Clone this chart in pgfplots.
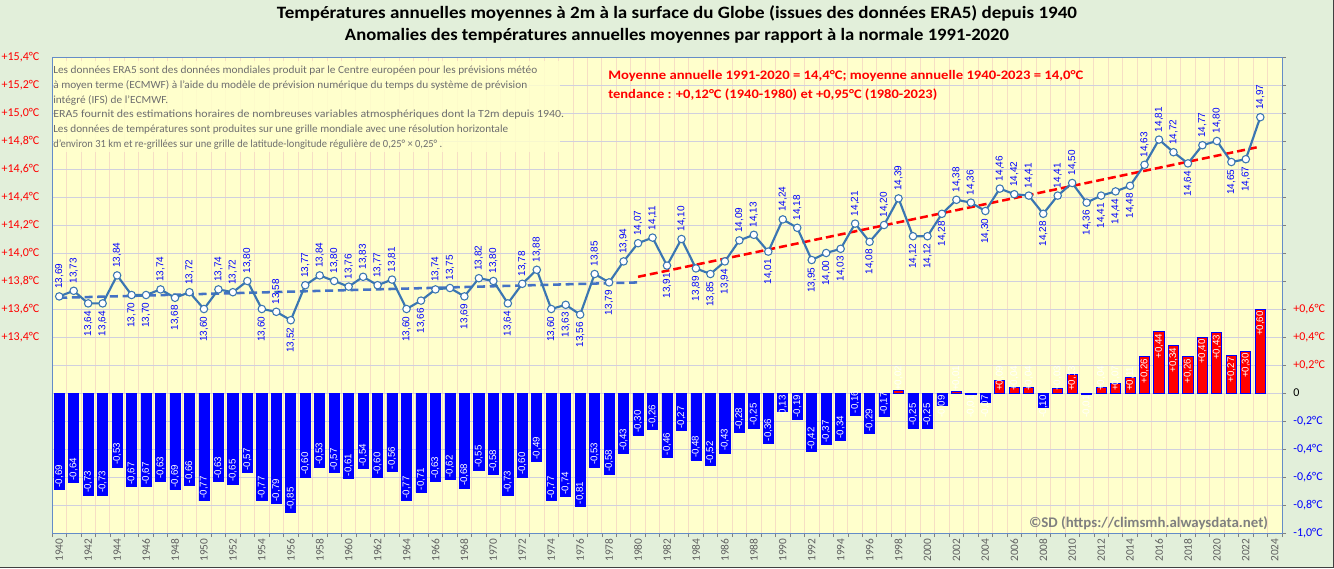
\documentclass[border=0pt]{standalone}
\usepackage{fontspec}
\setmainfont{Carlito}
\newfontfamily\labfont{Liberation Sans}
\usepackage{graphicx}
\usepackage{pgfplots}
\usepackage{pgfplotstable}
\pgfplotsset{compat=1.18}
\pgfkeys{/pgf/number format/assume math mode=true}
\definecolor{bggreen}{RGB}{226,239,218}
\definecolor{plotbg}{RGB}{255,255,204}
\definecolor{hgrid}{RGB}{208,208,222}
\definecolor{vgrid}{RGB}{246,222,196}
\definecolor{lineblue}{RGB}{58,118,178}
\definecolor{trendblue}{RGB}{68,114,196}
\definecolor{labelblue}{RGB}{0,0,255}
\definecolor{barblue}{RGB}{0,0,255}
\definecolor{barred}{RGB}{255,0,0}
\definecolor{tickred}{RGB}{255,0,0}
\definecolor{yeargray}{RGB}{95,95,95}
\definecolor{textgray}{RGB}{110,110,110}
\definecolor{wmgray}{RGB}{128,128,128}
\definecolor{axisblue}{RGB}{100,140,200}

% T: temperature, Tu/Td: T where its label is above/below the point
% A: anomaly, Bw/Be: position of the bar label (anchored west/east)
\pgfplotstableread{
year T Tu Td A Bw Be
1940 13.69 13.69 nan -0.69 -0.69 nan
1941 13.73 13.73 nan -0.64 -0.64 nan
1942 13.64 nan 13.64 -0.73 -0.73 nan
1943 13.64 nan 13.64 -0.73 -0.73 nan
1944 13.84 13.84 nan -0.53 -0.53 nan
1945 13.70 nan 13.70 -0.67 -0.67 nan
1946 13.70 nan 13.70 -0.67 -0.67 nan
1947 13.74 13.74 nan -0.63 -0.63 nan
1948 13.68 nan 13.68 -0.69 -0.69 nan
1949 13.72 13.72 nan -0.66 -0.66 nan
1950 13.60 nan 13.60 -0.77 -0.77 nan
1951 13.74 13.74 nan -0.63 -0.63 nan
1952 13.72 13.72 nan -0.65 -0.65 nan
1953 13.80 13.80 nan -0.57 -0.57 nan
1954 13.60 nan 13.60 -0.77 -0.77 nan
1955 13.58 13.58 nan -0.79 -0.79 nan
1956 13.52 nan 13.52 -0.85 -0.85 nan
1957 13.77 13.77 nan -0.60 -0.60 nan
1958 13.84 13.84 nan -0.53 -0.53 nan
1959 13.80 13.80 nan -0.57 -0.57 nan
1960 13.76 13.76 nan -0.61 -0.61 nan
1961 13.83 13.83 nan -0.54 -0.54 nan
1962 13.77 13.77 nan -0.60 -0.60 nan
1963 13.81 13.81 nan -0.56 -0.56 nan
1964 13.60 nan 13.60 -0.77 -0.77 nan
1965 13.66 nan 13.66 -0.71 -0.71 nan
1966 13.74 13.74 nan -0.63 -0.63 nan
1967 13.75 13.75 nan -0.62 -0.62 nan
1968 13.69 nan 13.69 -0.68 -0.68 nan
1969 13.82 13.82 nan -0.55 -0.55 nan
1970 13.80 13.80 nan -0.58 -0.58 nan
1971 13.64 nan 13.64 -0.73 -0.73 nan
1972 13.78 13.78 nan -0.60 -0.60 nan
1973 13.88 13.88 nan -0.49 -0.49 nan
1974 13.60 nan 13.60 -0.77 -0.77 nan
1975 13.63 nan 13.63 -0.74 -0.74 nan
1976 13.56 nan 13.56 -0.81 -0.81 nan
1977 13.85 13.85 nan -0.53 -0.53 nan
1978 13.79 nan 13.79 -0.58 -0.58 nan
1979 13.94 13.94 nan -0.43 -0.43 nan
1980 14.07 14.07 nan -0.30 -0.30 nan
1981 14.11 14.11 nan -0.26 -0.26 nan
1982 13.91 nan 13.91 -0.46 -0.46 nan
1983 14.10 14.10 nan -0.27 -0.27 nan
1984 13.89 nan 13.89 -0.48 -0.48 nan
1985 13.85 nan 13.85 -0.52 -0.52 nan
1986 13.94 nan 13.94 -0.43 -0.43 nan
1987 14.09 14.09 nan -0.28 -0.28 nan
1988 14.13 14.13 nan -0.25 -0.25 nan
1989 14.01 nan 14.01 -0.36 -0.36 nan
1990 14.24 14.24 nan -0.13 nan 0
1991 14.18 14.18 nan -0.19 -0.19 nan
1992 13.95 nan 13.95 -0.42 -0.42 nan
1993 14.00 nan 14.00 -0.37 -0.37 nan
1994 14.03 nan 14.03 -0.34 -0.34 nan
1995 14.21 14.21 nan -0.16 -0.16 nan
1996 14.08 nan 14.08 -0.29 -0.29 nan
1997 14.20 14.20 nan -0.17 -0.17 nan
1998 14.39 14.39 nan 0.02 0 nan
1999 14.12 nan 14.12 -0.25 -0.25 nan
2000 14.12 nan 14.12 -0.25 -0.25 nan
2001 14.28 nan 14.28 -0.09 nan 0
2002 14.38 14.38 nan 0.01 0 nan
2003 14.36 14.36 nan -0.01 nan 0
2004 14.30 nan 14.30 -0.07 nan 0
2005 14.46 14.46 nan 0.09 0 nan
2006 14.42 14.42 nan 0.04 0 nan
2007 14.41 14.41 nan 0.04 0 nan
2008 14.28 nan 14.28 -0.10 nan 0
2009 14.41 14.41 nan 0.03 0 nan
2010 14.50 14.50 nan 0.13 0 nan
2011 14.36 nan 14.36 -0.01 nan 0
2012 14.41 nan 14.41 0.04 0 nan
2013 14.44 nan 14.44 0.07 0 nan
2014 14.48 nan 14.48 0.11 0 nan
2015 14.63 14.63 nan 0.26 nan 0.26
2016 14.81 14.81 nan 0.44 nan 0.44
2017 14.72 14.72 nan 0.34 nan 0.34
2018 14.64 nan 14.64 0.26 nan 0.26
2019 14.77 14.77 nan 0.40 nan 0.40
2020 14.80 14.80 nan 0.43 nan 0.43
2021 14.65 nan 14.65 0.27 nan 0.27
2022 14.67 nan 14.67 0.30 nan 0.30
2023 14.97 14.97 nan 0.60 nan 0.60
}\data

\pgfplotsset{
  barlab/.style={draw=none, mark=none, point meta=explicit,
    nodes near coords={\pgfmathprintnumber[fixed,fixed zerofill,precision=2,use comma,showpos]{\pgfplotspointmeta}},
    every node near coord/.append style={rotate=90, font=\labfont\fontsize{7.3}{8}\selectfont, text=white, inner xsep=1.5pt, inner ysep=0pt}},
  templab/.style={draw=none, mark=none, point meta=explicit,
    nodes near coords={\pgfmathprintnumber[fixed,fixed zerofill,precision=2,use comma]{\pgfplotspointmeta}},
    every node near coord/.append style={rotate=90, font=\labfont\fontsize{7.5}{8}\selectfont, text=labelblue, inner xsep=5.5pt, inner ysep=0pt}},
}

\begin{document}
\begin{tikzpicture}[x=1pt,y=1pt]
\useasboundingbox (0,0) rectangle (1000.5,426);
\fill[bggreen] (0,0) rectangle (1000.5,426);

% ---- anomaly bars (right axis) ----
\begin{axis}[
  at={(39pt,26.25pt)}, anchor=south west,
  scale only axis, width=922.5pt, height=357pt,
  xmin=1939.5, xmax=2024.5, ymin=-1, ymax=2.4,
  axis background/.style={fill=plotbg},
  axis line style={draw=axisblue, line width=0.6pt},
  xtick={1940,1942,...,2024},
  minor xtick={1939.5,1940.5,...,2024.5},
  xminorgrids=true, xmajorgrids=false,
  minor x grid style={vgrid, line width=0.6pt},
  every major x tick/.append style={draw=none},
  every minor x tick/.append style={draw=gray, line width=0.5pt},
  minor tick length=3pt, major tick length=3pt,
  tick align=outside,
  xtick pos=bottom,
  xticklabel style={rotate=90, anchor=east, inner sep=1pt, font=\fontsize{8.5}{9}\selectfont, text=yeargray},
  xticklabel={\pgfmathprintnumber[fixed,1000 sep={}]{\tick}},
  ytick={-1,-0.8,-0.6,-0.4,-0.2,0,0.2,0.4,0.6,0.8,1,1.2,1.4,1.6,1.8,2,2.2,2.4},
  yticklabels={{\textcolor{barblue}{-1,0°C}},{\textcolor{barblue}{-0,8°C}},{\textcolor{barblue}{-0,6°C}},{\textcolor{barblue}{-0,4°C}},{\textcolor{barblue}{-0,2°C}},{0},{\textcolor{tickred}{+0,2°C}},{\textcolor{tickred}{+0,4°C}},{\textcolor{tickred}{+0,6°C}},{},{},{},{},{},{},{},{},{}},
  ytick pos=right, yticklabel pos=right,
  every major y tick/.append style={draw=gray, line width=0.5pt},
  yticklabel style={font=\fontsize{9}{10}\selectfont, anchor=west, xshift=2pt},
  ymajorgrids=true,
  major y grid style={hgrid, line width=0.6pt},
]
\addplot[ybar, bar width=0.7, bar shift=0pt, fill=barblue, draw=barblue, line width=0.5pt,
  y filter/.expression={y<0 ? y : nan}] table[x=year, y=A] {\data};
\addplot[ybar, bar width=0.7, bar shift=0pt, fill=barred, draw=barblue, line width=0.7pt,
  y filter/.expression={y>=0 ? y : nan}] table[x=year, y=A] {\data};
\addplot[barlab, every node near coord/.append style={anchor=west}] table[x=year, y=Bw, meta=A] {\data};
\addplot[barlab, every node near coord/.append style={anchor=east}] table[x=year, y=Be, meta=A] {\data};
\end{axis}

% ---- temperatures (left axis) ----
\begin{axis}[
  at={(39pt,26.25pt)}, anchor=south west,
  scale only axis, width=922.5pt, height=357pt,
  xmin=1939.5, xmax=2024.5, ymin=12, ymax=15.4,
  axis x line=none, axis y line*=left,
  axis line style={draw=axisblue, line width=0.6pt, -},
  ytick={13.4,13.6,13.8,14,14.2,14.4,14.6,14.8,15,15.2,15.4},
  yticklabels={{+13,4°C},{+13,6°C},{+13,8°C},{+14,0°C},{+14,2°C},{+14,4°C},{+14,6°C},{+14,8°C},{+15,0°C},{+15,2°C},{+15,4°C}},
  major tick length=0pt,
  yticklabel style={font=\fontsize{9}{10}\selectfont, text=tickred, anchor=east, xshift=-6pt},
]
\addplot[trendblue, line width=1.9pt, dash pattern=on 6pt off 3.5pt] coordinates {(1940,13.68) (1980,13.79)};
\addplot[red, line width=1.9pt, dash pattern=on 6pt off 3pt] coordinates {(1980,13.83) (2023,14.76)};
\addplot[lineblue, line width=1.6pt, mark=*, mark size=2.8pt,
  mark options={fill=white, draw=lineblue, line width=0.8pt}] table[x=year, y=T] {\data};
\addplot[templab, every node near coord/.append style={anchor=west}] table[x=year, y=Tu, meta=T] {\data};
\addplot[templab, every node near coord/.append style={anchor=east}] table[x=year, y=Td, meta=T] {\data};
\end{axis}

% ---- text box ----
\fill[plotbg, fill opacity=0.85] (40.5,312) rectangle (420,380);
\begin{scope}[every node/.style={anchor=west, inner sep=0pt, text=textgray, font=\fontsize{8.2}{9}\selectfont}]
\node at (39.75,372.75) {\resizebox{363pt}{\height}{Les données ERA5 sont des données mondiales produit par le Centre européen pour les prévisions météo}};
\node at (39.75,361.7) {\resizebox{355.5pt}{\height}{à moyen terme (ECMWF) à l'aide du modèle de prévision numérique du temps du système de prévision}};
\node at (39.75,350.7) {\resizebox{86.25pt}{\height}{intégré (IFS) de l'ECMWF.}};
\node at (39.75,339.7) {\resizebox{383.25pt}{\height}{ERA5 fournit des estimations horaires de nombreuses variables atmosphériques dont la T2m depuis 1940.}};
\node at (39.75,328.65) {\resizebox{341.25pt}{\height}{Les données de températures sont  produites sur une grille mondiale avec une résolution horizontale}};
\node at (39.75,317.6) {\resizebox{291.75pt}{\height}{d'environ 31 km et re-grillées sur une grille de latitude-longitude régulière de 0,25° × 0,25° .}};
\end{scope}

% ---- red note ----
\node[anchor=west, inner sep=0pt, text=red, font=\bfseries\fontsize{9.75}{11}\selectfont] at (456,369) {\resizebox{356.25pt}{\height}{Moyenne annuelle 1991-2020  = 14,4°C; moyenne annuelle 1940-2023  = 14,0°C}};
\node[anchor=west, inner sep=0pt, text=red, font=\bfseries\fontsize{9.75}{11}\selectfont] at (456,354.75) {\resizebox{246.75pt}{\height}{tendance : +0,12°C  (1940-1980)  et +0,95°C  (1980-2023)}};

% ---- titles ----
\node[inner sep=0pt, font=\bfseries\fontsize{13}{15}\selectfont] at (507.75,416.25) {\resizebox{600pt}{\height}{Températures annuelles  moyennes  à 2m à la surface du Globe (issues des données  ERA5) depuis 1940}};
\node[inner sep=0pt, font=\bfseries\fontsize{13}{15}\selectfont] at (507.75,399) {\resizebox{498pt}{\height}{Anomalies des températures annuelles moyennes par rapport à la normale 1991-2020}};

% ---- watermark ----
\node[inner sep=0pt, text=wmgray, font=\bfseries\fontsize{11}{12}\selectfont] at (861.4,33.75) {\resizebox{179.25pt}{\height}{©SD (https://climsmh.alwaysdata.net)}};

% ---- outer border ----
\draw[black!75, line width=0.75pt] (0,0.375) -- (1000.125,0.375) -- (1000.125,426);
\end{tikzpicture}
\end{document}
